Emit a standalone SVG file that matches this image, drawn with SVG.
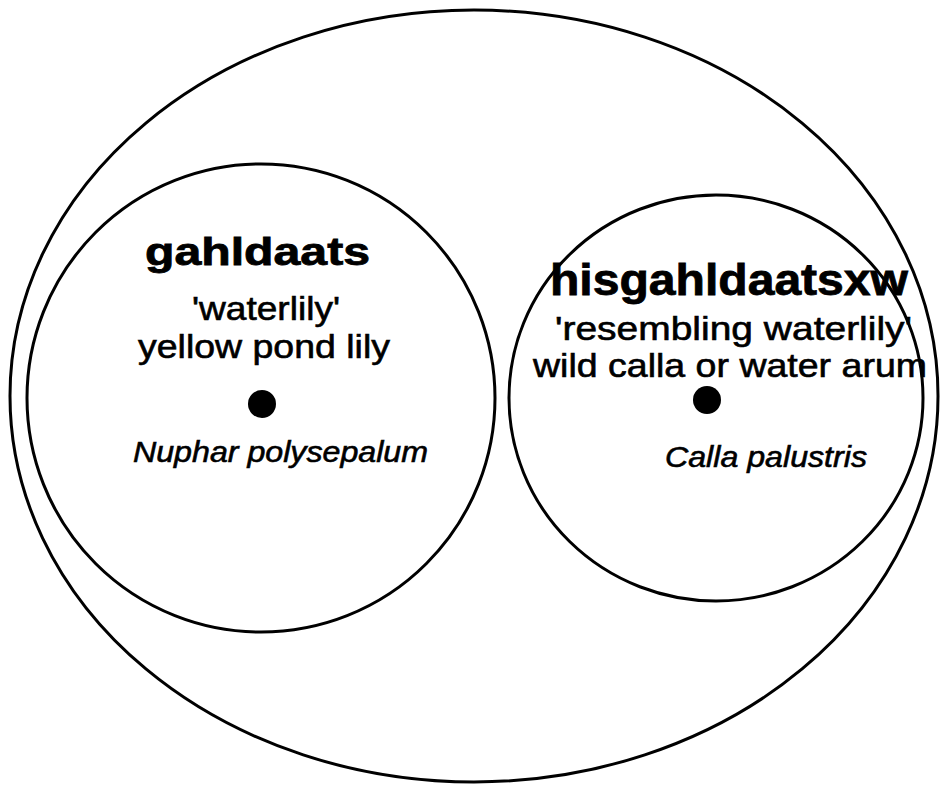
<svg xmlns="http://www.w3.org/2000/svg" width="941" height="786" viewBox="0 0 941 786">
<style>
.ring{fill:none;stroke:#000;stroke-width:3}
.dot{fill:#000}
text{font-family:"Liberation Sans",Arial,Helvetica,sans-serif;fill:#000;stroke:#000;stroke-width:0.6}
.title{font-weight:bold;stroke-width:0.8}
.reg{font-size:33px}
.it{font-style:italic;font-size:30px}
</style>
<rect width="941" height="786" fill="#fff"/>
<g id="outer">
<ellipse class="ring" cx="474" cy="396" rx="464" ry="386"/>
</g>
<g id="gahldaats">
<ellipse class="ring" cx="261" cy="398" rx="234" ry="234"/>
<circle class="dot" cx="262" cy="404" r="14"/>
<text class="title" x="145" y="265" font-size="39" textLength="225" lengthAdjust="spacingAndGlyphs">gahldaats</text>
<text class="reg" x="192" y="320" textLength="148" lengthAdjust="spacingAndGlyphs">'waterlily'</text>
<text class="reg" x="138" y="358" textLength="252" lengthAdjust="spacingAndGlyphs">yellow pond lily</text>
<text class="it" x="133" y="462" textLength="295" lengthAdjust="spacingAndGlyphs">Nuphar polysepalum</text>
</g>
<g id="hisgahldaatsxw">
<ellipse class="ring" cx="716" cy="398" rx="207" ry="203"/>
<circle class="dot" cx="707" cy="400" r="14"/>
<text class="title" x="550" y="295" font-size="44" textLength="358" lengthAdjust="spacingAndGlyphs">hisgahldaatsxw</text>
<text class="reg" x="555" y="340" textLength="357" lengthAdjust="spacingAndGlyphs">'resembling waterlily'</text>
<text class="reg" x="533" y="377" textLength="394" lengthAdjust="spacingAndGlyphs">wild calla or water arum</text>
<text class="it" x="665" y="467" textLength="202" lengthAdjust="spacingAndGlyphs">Calla palustris</text>
</g>
<g id="connectors"/>
</svg>
